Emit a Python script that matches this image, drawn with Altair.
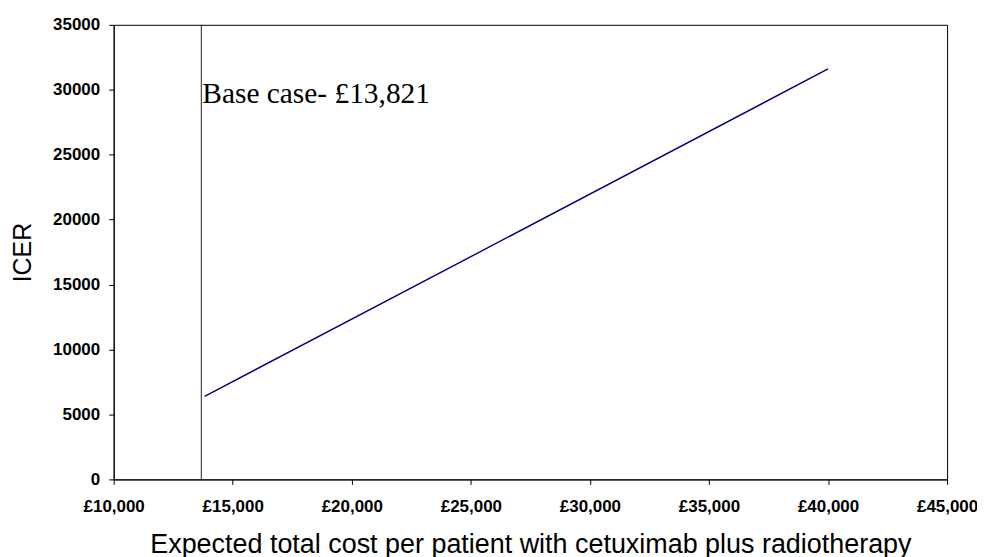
import altair as alt
import pandas as pd

# data
cost = [13821, 25000, 40000]
icer = [6400, 17150, 31600]
base_case_line = [13680]
label_x = [13680]
label_text = ["Base case- £13,821"]
label_y = [29000]

line_df = pd.DataFrame({"cost": cost, "icer": icer})
rule_df = pd.DataFrame({"cost": base_case_line})
text_df = pd.DataFrame({"cost": label_x, "icer": label_y, "label": label_text})

x_ticks = [10000, 15000, 20000, 25000, 30000, 35000, 40000, 45000]
y_ticks = [0, 5000, 10000, 15000, 20000, 25000, 30000, 35000]

xscale = alt.Scale(domain=[10000, 45000], nice=False, zero=False)
yscale = alt.Scale(domain=[0, 35000], nice=False)

xaxis = alt.Axis(
    title="Expected total cost per patient with cetuximab plus radiotherapy",
    values=x_ticks,
    labelExpr="'£' + format(datum.value, ',')",
    grid=False, labelFont="Liberation Sans", labelFontWeight="bold", labelFontSize=17,
    labelColor="black", titleFont="Liberation Sans", titleFontSize=27,
    titleFontWeight="normal", titleColor="black",
    titleY=73, titleBaseline="alphabetic",
    domainColor="black", tickColor="black", tickSize=5, labelPadding=14,
    labelFlush=False, labelOverlap=False,
)
yaxis = alt.Axis(
    title="ICER",
    values=y_ticks,
    format="d",
    grid=False, labelFont="Liberation Sans", labelFontWeight="bold", labelFontSize=17,
    labelColor="black", titleFont="Liberation Sans", titleFontSize=25,
    titleFontWeight="normal", titleColor="black",
    titleX=-83, titleBaseline="alphabetic",
    domainColor="black", tickColor="black", tickSize=5, labelPadding=9,
    labelOverlap=False,
)

line = alt.Chart(line_df).mark_line(color="#000080", strokeWidth=1.4).encode(
    x=alt.X("cost:Q", scale=xscale, axis=xaxis),
    y=alt.Y("icer:Q", scale=yscale, axis=yaxis),
)

rule = alt.Chart(rule_df).mark_rule(color="#222222", strokeWidth=1).encode(
    x=alt.X("cost:Q", scale=xscale),
)

text = alt.Chart(text_df).mark_text(
    align="left", baseline="alphabetic", font="Liberation Serif", fontSize=29.5,
    color="black", dx=1,
).encode(
    x=alt.X("cost:Q", scale=xscale),
    y=alt.Y("icer:Q", scale=yscale),
    text="label:N",
)

chart = alt.layer(rule, line, text).properties(
    width=836, height=456,
    autosize=alt.AutoSizeParams(type="none"),
    padding={"left": 106, "top": 16, "right": 30, "bottom": 80},
).configure_view(stroke="black", strokeWidth=1)

chart.save("out.html", embed_options={"renderer": "svg", "actions": False})
